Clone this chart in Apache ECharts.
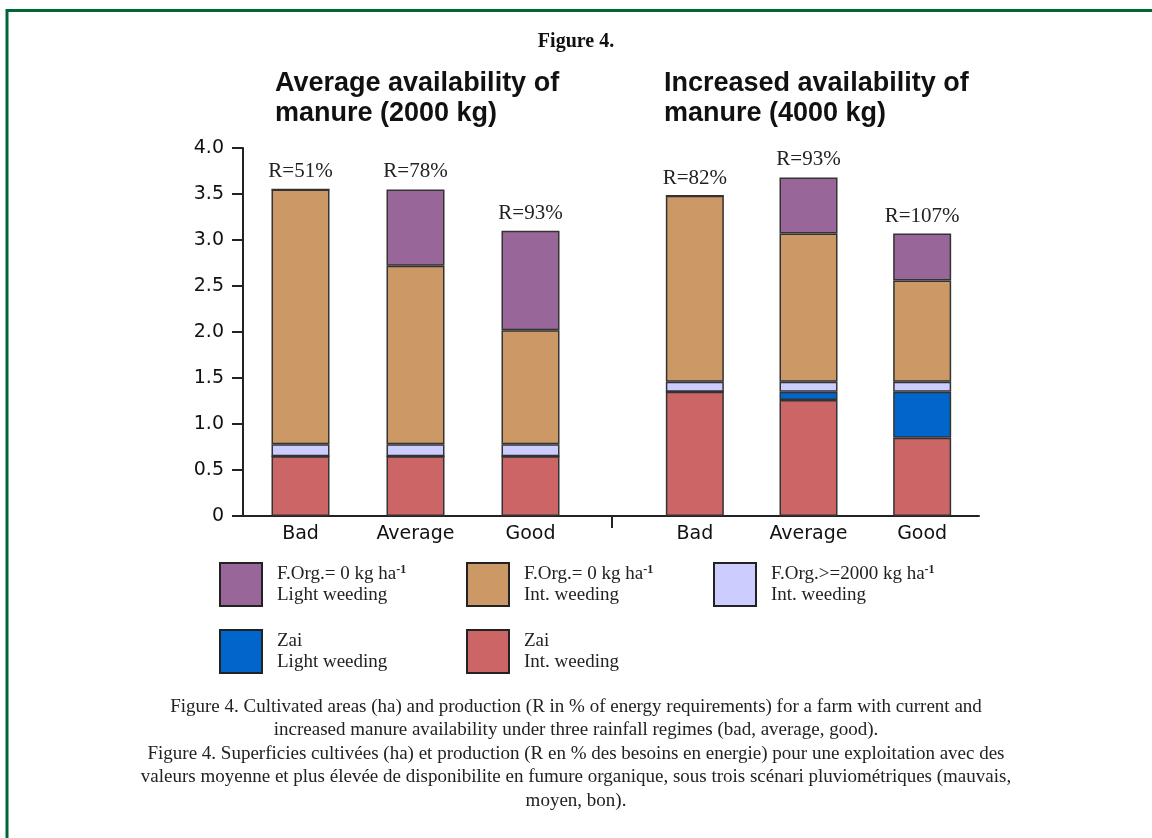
<!DOCTYPE html>
<html>
<head>
<meta charset="utf-8">
<script src="https://cdn.jsdelivr.net/npm/echarts@6/dist/echarts.min.js"></script>
<style>
html,body{margin:0;padding:0;background:#fff;}
#chart{width:1152px;height:838px;}
</style>
</head>
<body>
<div id="chart"></div>
<script>
// ---- data ----
const categories = ['Bad', 'Average', 'Good'];
const yTicks = [0, 0.5, 1.0, 1.5, 2.0, 2.5, 3.0, 3.5, 4.0];

// Average availability of manure (2000 kg)
const zaiIntLeft      = [0.65, 0.65, 0.65];
const zaiLightLeft    = [0, 0, 0];
const fOrg2000Left    = [0.13, 0.13, 0.13];
const fOrg0IntLeft    = [2.77, 1.94, 1.24];
const fOrg0LightLeft  = [0, 0.83, 1.08];
const rLeft           = ['R=51%', 'R=78%', 'R=93%'];

// Increased availability of manure (4000 kg)
const zaiIntRight     = [1.35, 1.26, 0.85];
const zaiLightRight   = [0, 0.09, 0.50];
const fOrg2000Right   = [0.11, 0.11, 0.11];
const fOrg0IntRight   = [2.02, 1.61, 1.10];
const fOrg0LightRight = [0, 0.61, 0.51];
const rRight          = ['R=82%', 'R=93%', 'R=107%'];

const groupTitles = ['Average availability of\nmanure (2000 kg)', 'Increased availability of\nmanure (4000 kg)'];
const figureTitle = 'Figure 4.';
const captionLines = [
  'Figure 4. Cultivated areas (ha) and production (R in % of energy requirements) for a farm with current and',
  'increased manure availability under three rainfall regimes (bad, average, good).',
  'Figure 4. Superficies cultivées (ha) et production (R en % des besoins en energie) pour une exploitation avec des',
  'valeurs moyenne et plus élevée de disponibilite en fumure organique, sous trois scénari pluviométriques (mauvais,',
  'moyen, bon).'
];

const seriesNames = {
  zaiInt: 'Zai Int. weeding',
  zaiLight: 'Zai Light weeding',
  fOrg2000: 'F.Org.>=2000 kg ha-1 Int. weeding',
  fOrg0Int: 'F.Org.= 0 kg ha-1 Int. weeding',
  fOrg0Light: 'F.Org.= 0 kg ha-1 Light weeding'
};
const legendRich = {
  [seriesNames.fOrg0Light]: '{t|F.Org.= 0 kg ha}{s|-1}\n{t|Light weeding}',
  [seriesNames.fOrg0Int]: '{t|F.Org.= 0 kg ha}{s|-1}\n{t|Int. weeding}',
  [seriesNames.fOrg2000]: '{t|F.Org.>=2000 kg ha}{s|-1}\n{t|Int. weeding}',
  [seriesNames.zaiLight]: '{t|Zai}\n{t|Light weeding}',
  [seriesNames.zaiInt]: '{t|Zai}\n{t|Int. weeding}'
};
const colors = {
  zaiInt: '#CC6666',
  zaiLight: '#0066CC',
  fOrg2000: '#CCCCFF',
  fOrg0Int: '#CC9966',
  fOrg0Light: '#996699'
};

// ---- chart ----
const chart = echarts.init(document.getElementById('chart'), null, {renderer: 'canvas'});
const border = '#333333';
const sansAxis = 'DejaVu Sans';

function barSeries(key, data, idx) {
  return {
    name: seriesNames[key],
    type: 'bar',
    stack: 'g' + idx,
    xAxisIndex: idx, yAxisIndex: idx,
    barWidth: 58,
    data: data,
    itemStyle: {color: colors[key], borderColor: border, borderWidth: 1.5},
    emphasis: {disabled: true}
  };
}
function rSeries(labels, idx) {
  return {
    name: 'R' + idx,
    type: 'bar',
    stack: 'g' + idx,
    xAxisIndex: idx, yAxisIndex: idx,
    barWidth: 58,
    data: labels.map(() => 0),
    itemStyle: {color: 'rgba(0,0,0,0)', borderWidth: 0},
    label: {
      show: true, position: 'top', distance: 7,
      formatter: p => labels[p.dataIndex],
      fontFamily: 'Liberation Serif', fontSize: 21, color: '#222'
    },
    emphasis: {disabled: true}
  };
}

const legendRichStyle = {
  t: {fontFamily: 'Liberation Serif', fontSize: 19, color: '#222', lineHeight: 21},
  s: {fontFamily: 'Liberation Serif', fontSize: 12, fontWeight: 'bold', color: '#222', lineHeight: 12, verticalAlign: 'top'}
};
function legendAt(name, left, top) {
  return {
    data: [name], left: left, top: top, padding: 0,
    itemWidth: 42, itemHeight: 43, selectedMode: false,
    icon: 'rect',
    itemStyle: {borderColor: '#222', borderWidth: 2},
    formatter: n => legendRich[n],
    textStyle: {rich: legendRichStyle, padding: [0, 0, 0, 10]}
  };
}

const axisLineStyle = {color: '#222', width: 2};
const option = {
  animation: false,
  backgroundColor: '#ffffff',
  title: [
    {text: figureTitle, left: 576, textAlign: 'center', top: 32, padding: 0,
     textStyle: {fontFamily: 'Liberation Serif', fontWeight: 'bold', fontSize: 20, color: '#111'}},
    {text: groupTitles[0], left: 275, top: 69, padding: 0,
     textStyle: {fontFamily: 'Liberation Sans', fontWeight: 'bold', fontSize: 27, lineHeight: 30, color: '#111'}},
    {text: groupTitles[1], left: 664, top: 69, padding: 0,
     textStyle: {fontFamily: 'Liberation Sans', fontWeight: 'bold', fontSize: 27, lineHeight: 30, color: '#111'}},
    {text: captionLines.join('\n'), left: 576, textAlign: 'center', top: 695, padding: 0,
     textStyle: {fontFamily: 'Liberation Serif', fontWeight: 'normal', fontSize: 19, lineHeight: 23.5, color: '#222'}}
  ],
  legend: [
    legendAt(seriesNames.fOrg0Light, 219, 562),
    legendAt(seriesNames.fOrg0Int, 466, 562),
    legendAt(seriesNames.fOrg2000, 713, 562),
    legendAt(seriesNames.zaiLight, 219, 629),
    legendAt(seriesNames.zaiInt, 466, 629)
  ],
  grid: [
    {left: 243, top: 148, width: 345, height: 368, containLabel: false, outerBoundsMode: 'none'},
    {left: 638, top: 148, width: 341, height: 368, containLabel: false, outerBoundsMode: 'none'}
  ],
  xAxis: [0, 1].map(i => ({
    type: 'category', gridIndex: i, data: categories,
    axisLine: {show: true, lineStyle: axisLineStyle},
    axisTick: {show: false},
    axisLabel: {fontFamily: sansAxis, fontSize: 19, color: '#111', margin: 9}
  })),
  yAxis: [
    {type: 'value', gridIndex: 0, min: 0, max: 4, interval: 0.5,
     splitLine: {show: false},
     axisLine: {show: true, lineStyle: axisLineStyle},
     axisTick: {show: true, inside: false, length: 11, lineStyle: axisLineStyle},
     axisLabel: {fontFamily: sansAxis, fontSize: 19, color: '#111', margin: 19,
       formatter: v => (v === 0 ? '0' : v.toFixed(1))}},
    {type: 'value', gridIndex: 1, min: 0, max: 4, interval: 0.5, show: false, splitLine: {show: false}}
  ],
  series: [
    barSeries('zaiInt', zaiIntLeft, 0),
    barSeries('zaiLight', zaiLightLeft, 0),
    barSeries('fOrg2000', fOrg2000Left, 0),
    barSeries('fOrg0Int', fOrg0IntLeft, 0),
    barSeries('fOrg0Light', fOrg0LightLeft, 0),
    rSeries(rLeft, 0),
    barSeries('zaiInt', zaiIntRight, 1),
    barSeries('zaiLight', zaiLightRight, 1),
    barSeries('fOrg2000', fOrg2000Right, 1),
    barSeries('fOrg0Int', fOrg0IntRight, 1),
    barSeries('fOrg0Light', fOrg0LightRight, 1),
    rSeries(rRight, 1)
  ]
};
chart.setOption(option);

// decorative frame, axis joint between the two panels, and divider tick
const g0 = chart.convertToPixel({gridIndex: 0}, [2, 0]);
const y0 = g0[1];
const xEnd0 = 243 + 345, xStart1 = 638;
chart.setOption({
  graphic: [
    {type: 'rect', shape: {x: 7, y: 10.5, width: 1300, height: 1000},
     style: {fill: 'none', stroke: '#006633', lineWidth: 3}, silent: true},
    {type: 'line', shape: {x1: xEnd0 - 1, y1: y0, x2: xStart1 + 1, y2: y0},
     style: {stroke: '#222', lineWidth: 2}, silent: true},
    {type: 'line', shape: {x1: (xEnd0 + xStart1) / 2 - 1, y1: y0, x2: (xEnd0 + xStart1) / 2 - 1, y2: y0 + 12},
     style: {stroke: '#222', lineWidth: 2}, silent: true}
  ]
});
</script>
</body>
</html>
